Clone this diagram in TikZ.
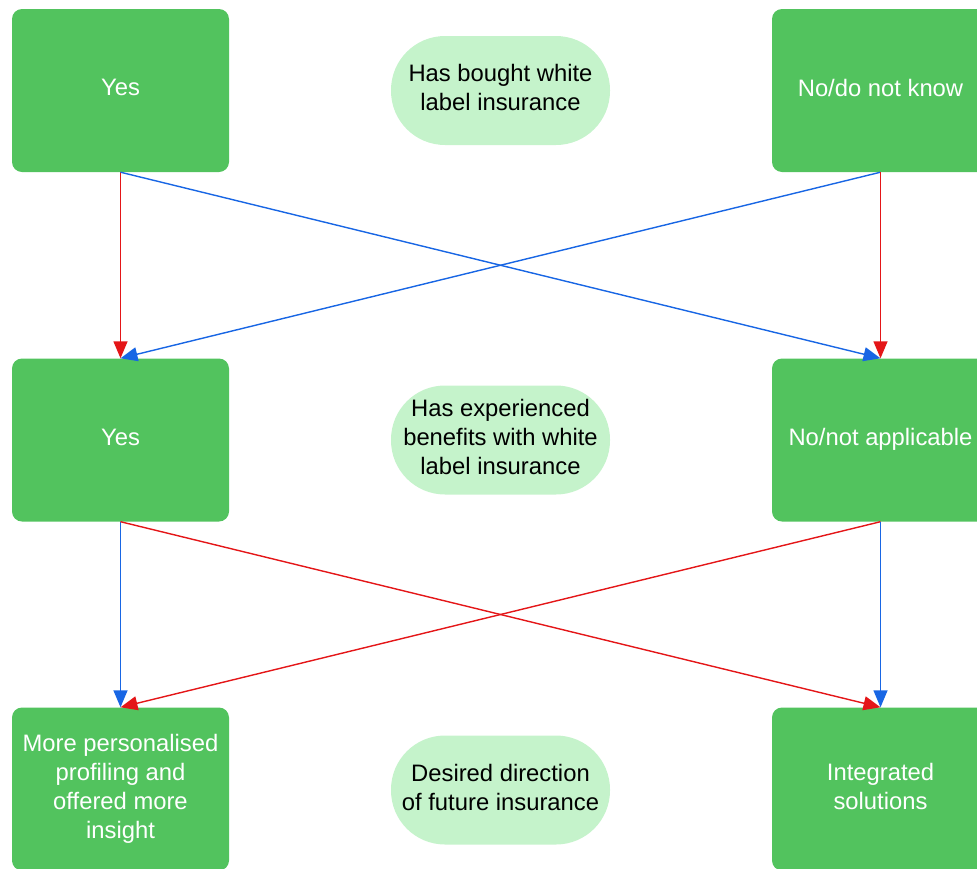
\documentclass[tikz,border=0pt]{standalone}
\usepackage{fontspec}
\setmainfont{Liberation Sans}
\usetikzlibrary{arrows.meta}
\definecolor{boxgreen}{RGB}{82,195,94}
\definecolor{pillgreen}{RGB}{197,243,203}
\definecolor{flowred}{RGB}{228,22,24}
\definecolor{flowblue}{RGB}{24,102,228}
\tikzset{
  label font/.style={align=center, text depth=6pt,
    font=\fontsize{23.8}{29}\selectfont},
  answer/.style={rectangle, rounded corners=10pt, fill=boxgreen, draw=none,
    minimum width=217pt, minimum height=163pt, inner sep=0pt,
    text=white, label font},
  question/.style={rectangle, rounded corners=54pt, fill=pillgreen, draw=none,
    minimum width=219pt, minimum height=109pt, inner sep=0pt,
    text=black, label font},
  link/.style={line width=1.4pt, -{Triangle[length=17pt,width=14pt]}},
  redlink/.style={link, draw=flowred, fill=flowred},
  bluelink/.style={link, draw=flowblue, fill=flowblue},
}
\begin{document}
\begin{tikzpicture}[x=1pt,y=-1pt]
  \useasboundingbox (0,0) rectangle (977,868);
  \clip (0,0) rectangle (977,868);

  % first level: purchase of white label insurance
  \node[answer]   (yesA) at (120.5,90.5) {Yes};
  \node[question] (qA)   at (500.5,90.5) {Has bought white\\label insurance};
  \node[answer]   (noA)  at (880.5,90.5) {No/do not know};

  % second level: experienced benefits
  \node[answer]   (yesB) at (120.5,440) {Yes};
  \node[question] (qB)   at (500.5,440) {Has experienced\\benefits with white\\label insurance};
  \node[answer]   (noB)  at (880.5,440) {No/not applicable};

  % third level: desired direction
  \node[answer]   (dirA) at (120.5,789) {More personalised\\profiling and\\offered more\\insight};
  \node[question] (qC)   at (500.5,790) {Desired direction\\of future insurance};
  \node[answer]   (dirB) at (880.5,789) {Integrated\\solutions};

  % connectors between first and second level
  \draw[redlink]  (yesA.south) -- (yesB.north);
  \draw[bluelink] (yesA.south) -- (noB.north);
  \draw[bluelink] (noA.south)  -- (yesB.north);
  \draw[redlink]  (noA.south)  -- (noB.north);

  % connectors between second and third level
  \draw[bluelink] (yesB.south) -- (dirA.north);
  \draw[redlink]  (yesB.south) -- (dirB.north);
  \draw[redlink]  (noB.south)  -- (dirA.north);
  \draw[bluelink] (noB.south)  -- (dirB.north);
\end{tikzpicture}
\end{document}
